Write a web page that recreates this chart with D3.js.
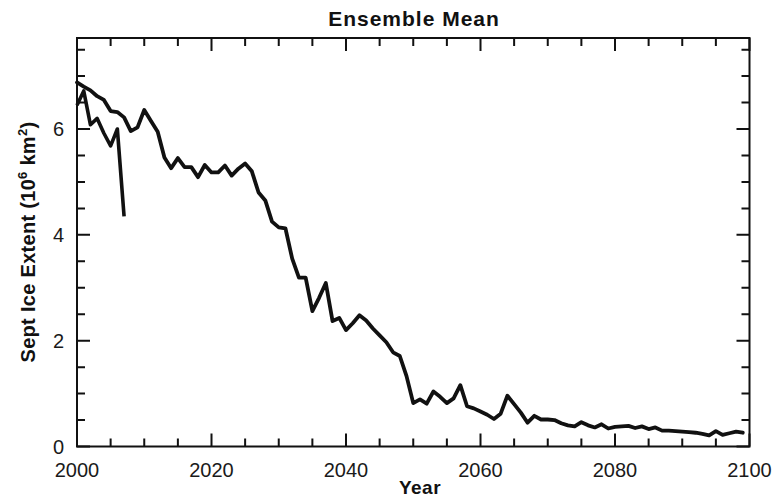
<!DOCTYPE html>
<html>
<head>
<meta charset="utf-8">
<script src="https://cdn.jsdelivr.net/npm/d3@7"></script>
<style>
    body {margin: 0; background: #fff;}
    svg {display: block; font-family: "Liberation Sans", Arial, sans-serif;}
</style>
</head>
<body>
<svg id="chart" width="784" height="499"></svg>
<script>
// ensemble mean Sept ice extent, one value per year 2000..2099 (10^6 km^2)
const meanYears = d3.range(2000, 2100)
const meanValues = [
    6.88, 6.80, 6.73, 6.62, 6.55, 6.34, 6.32, 6.22, 5.96, 6.03,
    6.36, 6.15, 5.95, 5.46, 5.26, 5.45, 5.28, 5.28, 5.09, 5.32,
    5.18, 5.18, 5.31, 5.12, 5.25, 5.35, 5.20, 4.80, 4.65, 4.25,
    4.14, 4.12, 3.55, 3.19, 3.19, 2.56, 2.81, 3.09, 2.37, 2.43,
    2.20, 2.33, 2.48, 2.38, 2.23, 2.10, 1.97, 1.78, 1.71, 1.33,
    0.82, 0.89, 0.81, 1.04, 0.94, 0.82, 0.91, 1.16, 0.76, 0.72,
    0.66, 0.60, 0.52, 0.62, 0.96, 0.80, 0.64, 0.45, 0.58, 0.51,
    0.51, 0.50, 0.44, 0.40, 0.38, 0.46, 0.40, 0.36, 0.42, 0.34,
    0.37, 0.38, 0.39, 0.35, 0.38, 0.33, 0.36, 0.30, 0.30, 0.29,
    0.28, 0.27, 0.26, 0.24, 0.21, 0.29, 0.22, 0.25, 0.28, 0.26
]

// observed record 2000..2007
const obsYears = d3.range(2000, 2008)
const obsValues = [6.45, 6.72, 6.08, 6.20, 5.92, 5.68, 6.00, 4.35]

const xMajorTicks = [2000, 2020, 2040, 2060, 2080, 2100]
const xMinorTicks = d3.range(2005, 2100, 5).filter(t => (t - 2000) % 20 !== 0)
const yMajorTicks = [0, 2, 4, 6]
const yMinorTicks = d3.range(0.5, 7.6, 0.5).filter(t => t % 2 !== 0)

const titleText = "Ensemble Mean"
const xLabelText = "Year"

const width = 784, height = 499
const margin = {top: 38, right: 34.5, bottom: 52.5, left: 77}

const svg = d3.select("#chart")

const x = d3.scaleLinear()
    .domain([2000, 2100])
    .range([margin.left, width - margin.right])
const y = d3.scaleLinear()
    .domain([0, 7.72])
    .range([height - margin.bottom, margin.top])

const x0 = x.range()[0], x1 = x.range()[1]
const y0 = y.range()[0], y1 = y.range()[1]

// inward ticks on all four sides, one path
const xTicks = [
    ...xMajorTicks.map(v => ({v, len: 13})),
    ...xMinorTicks.map(v => ({v, len: 8}))
]
const yTicks = [
    ...yMajorTicks.map(v => ({v, len: 13})),
    ...yMinorTicks.map(v => ({v, len: 8}))
]

let tickPath = ""
xTicks.forEach(d => {
    tickPath += `M${x(d.v)},${y0}v${-d.len}`
    tickPath += `M${x(d.v)},${y1}v${d.len}`
})
yTicks.forEach(d => {
    tickPath += `M${x0},${y(d.v)}h${d.len}`
    tickPath += `M${x1},${y(d.v)}h${-d.len}`
})

svg.append("path")
    .attr("d", tickPath)
    .attr("fill", "none")
    .attr("stroke", "#111")
    .attr("stroke-width", 2)

// tick labels
svg.append("g")
    .selectAll("text")
    .data(xMajorTicks)
    .enter()
    .append("text")
    .attr("x", d => x(d))
    .attr("y", y0 + 30)
    .attr("text-anchor", "middle")
    .attr("font-size", 20)
    .attr("fill", "#1a1a1a")
    .text(d => d)

svg.append("g")
    .selectAll("text")
    .data(yMajorTicks)
    .enter()
    .append("text")
    .attr("x", x0 - 13)
    .attr("y", d => y(d))
    .attr("dy", "0.36em")
    .attr("text-anchor", "end")
    .attr("font-size", 20)
    .attr("fill", "#1a1a1a")
    .text(d => d)

// frame
svg.append("rect")
    .attr("x", x0)
    .attr("y", y1)
    .attr("width", x1 - x0)
    .attr("height", y0 - y1)
    .attr("fill", "none")
    .attr("stroke", "#111")
    .attr("stroke-width", 2)

const line = d3.line()
    .x(d => x(d[0]))
    .y(d => y(d[1]))

svg.append("path")
    .datum(meanYears.map((yr, i) => [yr, meanValues[i]]))
    .attr("d", line)
    .attr("fill", "none")
    .attr("stroke", "#111")
    .attr("stroke-width", 3.8)
    .attr("stroke-linejoin", "round")
    .attr("stroke-linecap", "round")

svg.append("path")
    .datum(obsYears.map((yr, i) => [yr, obsValues[i]]))
    .attr("d", line)
    .attr("fill", "none")
    .attr("stroke", "#111")
    .attr("stroke-width", 3.6)
    .attr("stroke-linejoin", "round")

// labels
svg.append("text")
    .attr("x", 414)
    .attr("y", 26)
    .attr("text-anchor", "middle")
    .attr("font-size", 21)
    .attr("font-weight", "bold")
    .attr("letter-spacing", 1)
    .attr("fill", "#111")
    .text(titleText)

svg.append("text")
    .attr("x", 420)
    .attr("y", 494)
    .attr("text-anchor", "middle")
    .attr("font-size", 19)
    .attr("font-weight", "bold")
    .attr("letter-spacing", 0.5)
    .attr("fill", "#111")
    .text(xLabelText)

const yLabel = svg.append("text")
    .attr("transform", "translate(35,242) rotate(-90)")
    .attr("text-anchor", "middle")
    .attr("font-size", 20)
    .attr("font-weight", "bold")
    .attr("letter-spacing", 0.3)
    .attr("fill", "#111")
yLabel.append("tspan").text("Sept Ice Extent (10")
yLabel.append("tspan").attr("dy", -8).attr("font-size", 13).text("6")
yLabel.append("tspan").attr("dy", 8).text(" km")
yLabel.append("tspan").attr("dy", -8).attr("font-size", 13).text("2")
yLabel.append("tspan").attr("dy", 8).text(")")
</script>
</body>
</html>
